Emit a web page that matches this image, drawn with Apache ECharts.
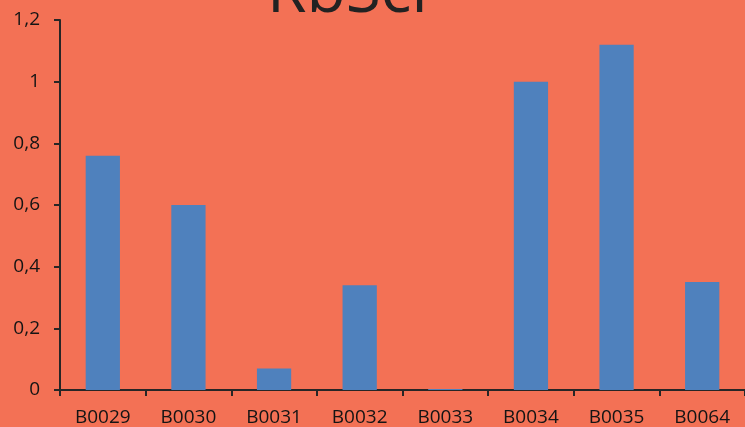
<!DOCTYPE html>
<html>
<head>
<meta charset="utf-8">
<script src="https://cdn.jsdelivr.net/npm/echarts@6/dist/echarts.min.js"></script>
<style>
  html, body { margin: 0; padding: 0; background: #F37155; }
  #chart { width: 745px; height: 427px; }
</style>
</head>
<body>
<div id="chart"></div>
<script>
const titleText = 'RbScr';
const categories = ['B0029', 'B0030', 'B0031', 'B0032', 'B0033', 'B0034', 'B0035', 'B0064'];
const values = [0.76, 0.6, 0.07, 0.34, 0.003, 1.0, 1.12, 0.35];
const yTicks = [0, 0.2, 0.4, 0.6, 0.8, 1, 1.2];

const fontFamily = '"Open Sans", "Liberation Sans", sans-serif';
const axisColor = '#262626';

const chart = echarts.init(document.getElementById('chart'), null, { renderer: 'canvas' });
chart.setOption({
  backgroundColor: '#F37155',
  animation: false,
  title: {
    text: titleText,
    left: 267,
    top: -38,
    padding: 0,
    textStyle: { fontFamily, fontSize: 64, fontWeight: 'normal', color: '#222222' }
  },
  grid: { left: 60, right: -9, top: 20, bottom: 37, containLabel: false },
  xAxis: {
    type: 'category',
    data: categories,
    axisLine: { lineStyle: { color: axisColor, width: 2 } },
    axisTick: { show: true, alignWithLabel: false, length: 6, lineStyle: { color: axisColor, width: 2 } },
    axisLabel: { fontFamily, fontSize: 19, color: '#141414', margin: 18 }
  },
  yAxis: {
    type: 'value',
    min: yTicks[0],
    max: yTicks[yTicks.length - 1],
    interval: 0.2,
    splitLine: { show: false },
    axisLine: { show: true, lineStyle: { color: axisColor, width: 2 } },
    axisTick: { show: true, length: 6, lineStyle: { color: axisColor, width: 2 } },
    axisLabel: {
      fontFamily, fontSize: 19, color: '#141414', margin: 20,
      formatter: v => String(Math.round(v * 10) / 10).replace('.', ',')
    }
  },
  series: [{
    type: 'bar',
    data: values,
    barWidth: '40%',
    itemStyle: { color: '#4F81BD' }
  }]
});
</script>
</body>
</html>
